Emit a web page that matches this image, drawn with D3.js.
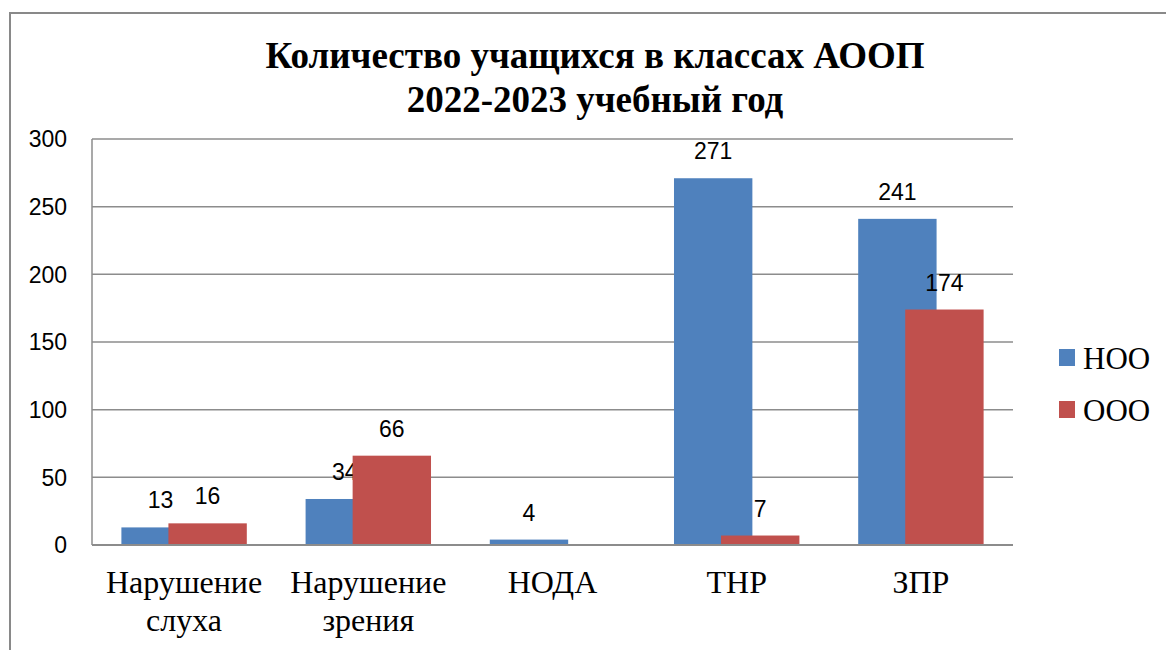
<!DOCTYPE html>
<html><head><meta charset="utf-8">
<script src="https://cdn.jsdelivr.net/npm/d3@7"></script>
<style>body{margin:0;background:#fff}svg{display:block}</style>
</head><body>
<svg id="c" width="1166" height="650"></svg>
<script>
const titleLines = ["Количество учащихся в классах АООП", "2022-2023 учебный год"];
const categories = [["Нарушение","слуха"],["Нарушение","зрения"],["НОДА"],["ТНР"],["ЗПР"]];
const seriesNames = ["НОО","ООО"];
const nooValues = [13, 34, 4, 271, 241];
const oooValues = [16, 66, null, 7, 174];
const yTicks = [0, 50, 100, 150, 200, 250, 300];
const colors = ["#4F81BD", "#C0504D"];

const svg = d3.select("#c");
const L = 92, R = 1013, T = 139, B = 545;
const catKeys = categories.map(c => c.join(" "));
const x = d3.scaleBand().domain(catKeys).range([L, R]).paddingInner(0).paddingOuter(0);
const y = d3.scaleLinear().domain([0, 300]).range([B, T]);

// outer frame
svg.append("path").attr("d", `M10,650 L10,13 L1166,13`).attr("fill","none").attr("stroke","#898989").attr("stroke-width",2);

// title
svg.append("text").attr("x", 595).attr("y", 68).attr("text-anchor","middle")
  .attr("font-family","'Liberation Serif', 'Times New Roman', serif").attr("font-weight","bold").attr("font-size",37)
  .text(titleLines[0]);
svg.append("text").attr("x", 595).attr("y", 112).attr("text-anchor","middle")
  .attr("font-family","'Liberation Serif', 'Times New Roman', serif").attr("font-weight","bold").attr("font-size",37)
  .text(titleLines[1]);

// gridlines
svg.append("g").selectAll("line").data(yTicks).join("line")
  .attr("x1", L).attr("x2", R).attr("y1", d => y(d)).attr("y2", d => y(d))
  .attr("stroke", "#8c8c8c").attr("stroke-width", 1.5);
// y axis line
svg.append("line").attr("x1", L).attr("x2", L).attr("y1", T).attr("y2", B).attr("stroke","#8c8c8c").attr("stroke-width",1.5);
// tick labels
svg.append("g").selectAll("text").data(yTicks).join("text")
  .attr("x", 67).attr("y", d => y(d)).attr("dy","0.36em").attr("text-anchor","end")
  .attr("font-family","'Liberation Sans', Arial, sans-serif").attr("font-size",23).attr("fill","#000")
  .text(d => d);

const bw = x.bandwidth() / 2.35;
const seriesVals = [nooValues, oooValues];
seriesVals.forEach((vals, si) => {
  const data = catKeys.map((k, i) => ({k, v: vals[i]})).filter(d => d.v != null);
  const off = 0.375 * bw + si * 0.6 * bw;
  svg.append("g").selectAll("rect").data(data).join("rect")
    .attr("x", d => x(d.k) + off).attr("width", bw)
    .attr("y", d => y(d.v)).attr("height", d => y(0) - y(d.v))
    .attr("fill", colors[si]);
  svg.append("g").selectAll("text").data(data).join("text")
    .attr("x", d => x(d.k) + off + bw / 2).attr("y", d => y(d.v) - 19)
    .attr("text-anchor","middle")
    .attr("font-family","'Liberation Sans', Arial, sans-serif").attr("font-size",23).attr("fill","#000")
    .text(d => d.v);
});
// baseline axis
svg.append("line").attr("x1", L).attr("x2", R).attr("y1", B).attr("y2", B).attr("stroke","#8c8c8c").attr("stroke-width",2);

// category labels
const cg = svg.append("g").attr("font-family","'Liberation Serif', 'Times New Roman', serif").attr("font-size",32).attr("fill","#000");
categories.forEach((lines, i) => {
  const cx = x(catKeys[i]) + x.bandwidth() / 2;
  lines.forEach((ln, j) => {
    cg.append("text").attr("x", cx).attr("y", 593 + j * 38).attr("text-anchor","middle").text(ln);
  });
});

// legend
const lg = svg.append("g");
seriesNames.forEach((n, i) => {
  lg.append("rect").attr("x", 1059).attr("y", 349 + i * 52).attr("width", 16).attr("height", 17).attr("fill", colors[i]);
  lg.append("text").attr("x", 1083).attr("y", 369 + i * 52)
    .attr("font-family","'Liberation Serif', 'Times New Roman', serif").attr("font-size",31).text(n);
});
</script>
</body></html>
